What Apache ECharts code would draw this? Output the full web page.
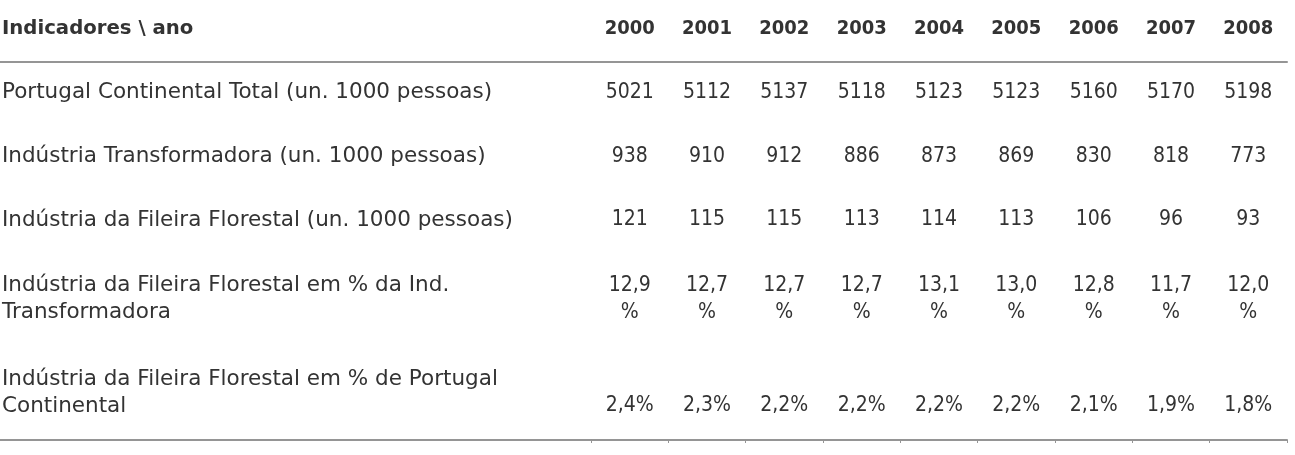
<!DOCTYPE html>
<html>
<head>
<meta charset="utf-8">
<script src="https://cdn.jsdelivr.net/npm/echarts@6/dist/echarts.min.js"></script>
<style>html,body{margin:0;padding:0;background:#fff}#c{width:1295px;height:455px}</style>
</head>
<body>
<div id="c"></div>
<script>
// ---- data ----
const headerLabel = 'Indicadores \\ ano';
const years = ['2000','2001','2002','2003','2004','2005','2006','2007','2008'];
const rowLabels = [
  'Portugal Continental Total (un. 1000 pessoas)',
  'Indústria Transformadora (un. 1000 pessoas)',
  'Indústria da Fileira Florestal (un. 1000 pessoas)',
  'Indústria da Fileira Florestal em % da Ind.\nTransformadora',
  'Indústria da Fileira Florestal em % de Portugal\nContinental'
];
const totalPortugal = [5021, 5112, 5137, 5118, 5123, 5123, 5160, 5170, 5198];
const industriaTransf = [938, 910, 912, 886, 873, 869, 830, 818, 773];
const fileiraFlorestal = [121, 115, 115, 113, 114, 113, 106, 96, 93];
const pctIndTransf = [12.9, 12.7, 12.7, 12.7, 13.1, 13.0, 12.8, 11.7, 12.0];
const pctPortugal = [2.4, 2.3, 2.2, 2.2, 2.2, 2.2, 2.1, 1.9, 1.8];

// ---- layout / style ----
const LABEL_FONT = 'DejaVu Sans';
const NUM_FONT = '"DejaVu Sans Condensed", "DejaVu Sans"';
const TXT = '#333333';
const LINE = '#959595';
const valueShift = [-7, -19, -31, -28, 3];
const labelShift = [-7, -19, -31, -28, -9];

// fit font sizes to the reference text widths
const mctx = document.createElement('canvas').getContext('2d');
function fitSize(text, family, weight, target) {
  mctx.font = weight + ' 100px ' + family;
  const w = mctx.measureText(text).width;
  return Math.round(100 * target / w * 10) / 10;
}
const FS_LABEL = Math.min(22, fitSize(rowLabels[0], LABEL_FONT, 'normal', 490));
const FS_TITLE = Math.min(22, fitSize(headerLabel, LABEL_FONT, 'bold', 191));
const FS_NUM = Math.min(22, fitSize('5021', NUM_FONT, 'normal', 48));
const FS_YEAR = Math.min(22, fitSize('2000', NUM_FONT, 'bold', 50));

const rows = [totalPortugal, industriaTransf, fileiraFlorestal, pctIndTransf, pctPortugal];
const fmt = [
  v => String(v),
  v => String(v),
  v => String(v),
  v => v.toFixed(1).replace('.', ',') + '\n%',
  v => v.toFixed(1).replace('.', ',') + '%'
];

const valueSeries = rows.map((vals, r) => ({
  type: 'scatter',
  xAxisIndex: 0,
  yAxisIndex: 0,
  symbolSize: 1,
  itemStyle: { color: 'rgba(0,0,0,0)' },
  silent: true,
  data: vals.map((v, c) => [c, r, v]),
  label: {
    show: true,
    position: 'inside',
    offset: [0, valueShift[r]],
    fontFamily: NUM_FONT,
    fontSize: FS_NUM,
    color: TXT,
    opacity: 1,
    textBorderWidth: 0,
    lineHeight: 27,
    align: 'center',
    verticalAlign: 'middle',
    formatter: p => fmt[r](p.data[2])
  }
}));

const labelSeries = rowLabels.map((t, r) => ({
  type: 'scatter',
  xAxisIndex: 2,
  yAxisIndex: 1,
  symbolSize: 1,
  itemStyle: { color: 'rgba(0,0,0,0)' },
  silent: true,
  data: [[0, r]],
  label: {
    show: true,
    position: 'right',
    distance: 1.5,
    offset: [0, labelShift[r]],
    fontFamily: LABEL_FONT,
    fontSize: FS_LABEL,
    color: TXT,
    opacity: 1,
    textBorderWidth: 0,
    lineHeight: 27,
    align: 'left',
    verticalAlign: 'middle',
    formatter: () => t
  }
}));

const chart = echarts.init(document.getElementById('c'), null, { renderer: 'canvas' });
chart.setOption({
  animation: false,
  backgroundColor: '#ffffff',
  title: {
    text: headerLabel,
    left: 2, top: 19, padding: 0,
    textStyle: { fontFamily: LABEL_FONT, fontSize: FS_TITLE, fontWeight: 'bold', color: TXT }
  },
  grid: [
    { left: 591, right: 8, top: 62, bottom: 15, outerBoundsMode: 'none', containLabel: false },
    { left: 0, width: 591, top: 62, bottom: 15, outerBoundsMode: 'none', containLabel: false }
  ],
  xAxis: [
    {
      type: 'category', gridIndex: 0, position: 'top', data: years,
      axisLine: { show: true, lineStyle: { color: LINE, width: 2 } },
      axisTick: { show: false },
      axisLabel: { interval: 0, margin: 23, fontFamily: NUM_FONT, fontSize: FS_YEAR, fontWeight: 'bold', color: TXT },
      splitLine: { show: false }
    },
    {
      type: 'category', gridIndex: 0, position: 'bottom', data: years,
      axisLine: { show: true, lineStyle: { color: LINE, width: 2 } },
      axisTick: { show: true, length: 3, lineStyle: { color: LINE, width: 1 } },
      axisLabel: { show: false },
      splitLine: { show: false }
    },
    {
      type: 'value', gridIndex: 1, position: 'top', min: 0, max: 1,
      axisLine: { show: true, onZero: false, lineStyle: { color: LINE, width: 2 } },
      axisTick: { show: false }, axisLabel: { show: false }, splitLine: { show: false }
    },
    {
      type: 'value', gridIndex: 1, position: 'bottom', min: 0, max: 1,
      axisLine: { show: true, onZero: false, lineStyle: { color: LINE, width: 2 } },
      axisTick: { show: false }, axisLabel: { show: false }, splitLine: { show: false }
    }
  ],
  yAxis: [
    {
      type: 'category', gridIndex: 0, inverse: true, data: rowLabels,
      axisLine: { show: false }, axisTick: { show: false }, splitLine: { show: false },
      axisLabel: { show: false }
    },
    {
      type: 'category', gridIndex: 1, inverse: true, data: rowLabels,
      axisLine: { show: false }, axisTick: { show: false }, splitLine: { show: false },
      axisLabel: { show: false }
    }
  ],
  series: valueSeries.concat(labelSeries)
});
</script>
</body>
</html>
